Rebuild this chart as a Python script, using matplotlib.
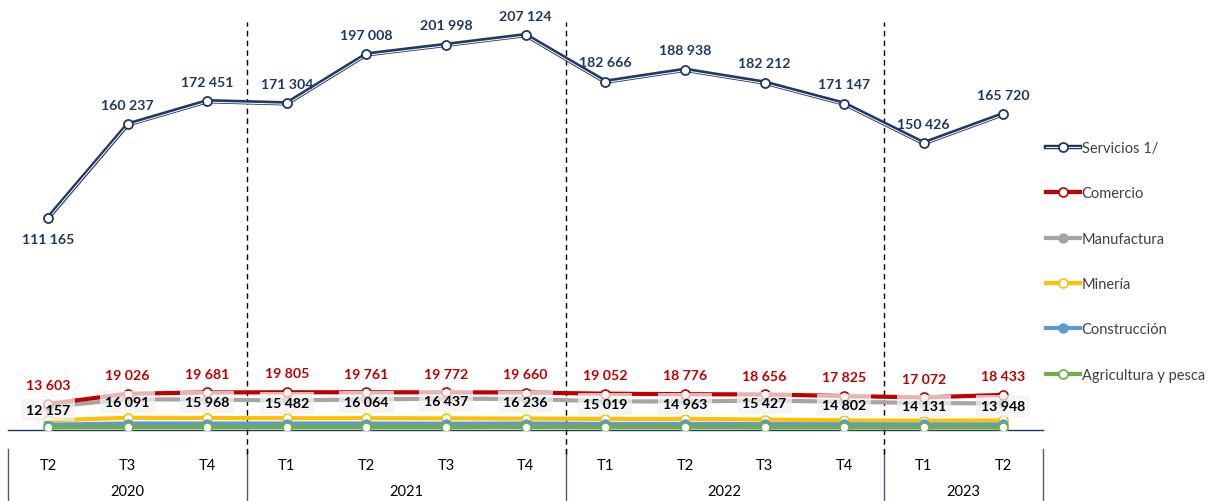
import matplotlib
matplotlib.use("Agg")
import matplotlib.pyplot as plt
import matplotlib.transforms as mtransforms
from matplotlib.lines import Line2D
from matplotlib.legend_handler import HandlerTuple

plt.rcParams['font.family'] = ['Lato', 'DejaVu Sans']

# quarters and years
quarters = ["T2", "T3", "T4", "T1", "T2", "T3", "T4", "T1", "T2", "T3", "T4", "T1", "T2"]
years = ["2020", "2021", "2022", "2023"]
year_sizes = [3, 4, 4, 2]

servicios = [111165, 160237, 172451, 171304, 197008, 201998, 207124,
             182666, 188938, 182212, 171147, 150426, 165720]
comercio = [13603, 19026, 19681, 19805, 19761, 19772, 19660,
            19052, 18776, 18656, 17825, 17072, 18433]
manufactura = [12157, 16091, 15968, 15482, 16064, 16437, 16236,
               15019, 14963, 15427, 14802, 14131, 13948]
mineria = [5000, 6400, 6300, 6200, 6200, 6100, 6000, 5800, 5800, 5500, 5000, 4900, 5000]
construccion = [2800, 3400, 3400, 3400, 3400, 3300, 3400, 3200, 3200, 3100, 3000, 2900, 2900]
agricultura = [1400, 1500, 1500, 1500, 1500, 1500, 1600, 1500, 1500, 1400, 1400, 1400, 1400]

NAVY = "#1f3864"
RED = "#c00000"
GRAY = "#a5a5a5"
YELLOW = "#ffc000"
BLUE = "#5b9bd5"
GREEN = "#70ad47"


def fmt(v):
    return f"{v:,}".replace(",", " ")


fig = plt.figure(figsize=(12.1, 5.02), dpi=100)
ax = fig.add_axes([8.2 / 1210, 71 / 502, 1035 / 1210, 419.5 / 502])
x = list(range(len(quarters)))

# small series first
ax.plot(x, mineria, color=YELLOW, lw=3, marker="o", ms=6.5, mfc="white", mec=YELLOW, mew=1.2, zorder=3)
ax.plot(x, construccion, color=BLUE, lw=3, marker="o", ms=6.5, mfc=BLUE, mec=BLUE, zorder=3.1)
ax.plot(x, agricultura, color=GREEN, lw=3, marker="o", ms=6.5, mfc="white", mec=GREEN, mew=1.2, zorder=3.2)
ax.plot(x, manufactura, color=GRAY, lw=3, marker="o", ms=6.5, mfc=GRAY, mec=GRAY, zorder=3.3)
ax.plot(x, comercio, color=RED, lw=3, marker="o", ms=6.5, mfc="white", mec=RED, mew=1.2, zorder=3.4)

# servicios: double line look
ax.plot(x, servicios, color=NAVY, lw=3.2, zorder=5)
shift = mtransforms.offset_copy(ax.transData, fig=fig, x=0, y=-0.9, units="dots")
ax.plot(x, servicios, color="white", lw=0.7, transform=shift, zorder=5.1)
ax.plot(x, servicios, ls="none", marker="o", ms=6.5, mfc="white", mec=NAVY, mew=1.3, zorder=5.2)

# data labels
for i, v in enumerate(servicios):
    dy = -15 if i == 0 else 14
    ax.annotate(fmt(v), (i, v), xytext=(0, dy), textcoords="offset points",
                ha="center", va="center", fontsize=10.2, fontweight="bold", color=NAVY, zorder=7)
for i, v in enumerate(comercio):
    ax.annotate(fmt(v), (i, v), xytext=(0, 13.5), textcoords="offset points",
                ha="center", va="center", fontsize=10.2, fontweight="bold", color=RED, zorder=7)
for i, v in enumerate(manufactura):
    ax.annotate(fmt(v), (i, v), xytext=(0, -2), textcoords="offset points",
                ha="center", va="center", fontsize=10.2, fontweight="bold", color="black", zorder=6,
                bbox=dict(boxstyle="square,pad=0.35", fc="#f2f2f2", ec="none", alpha=0.75))

ax.set_xlim(-0.5, len(quarters) - 0.5)
ax.set_ylim(0, 220000)
ax.set_yticks([])
ax.set_xticks([])
for s in ["top", "right", "left"]:
    ax.spines[s].set_visible(False)
ax.spines["bottom"].set_color(NAVY)
ax.spines["bottom"].set_linewidth(1)

trans = mtransforms.blended_transform_factory(ax.transData, ax.transAxes)

# quarter labels
for i, q in enumerate(quarters):
    ax.text(i, -0.0834, q, transform=trans, ha="center", va="center", fontsize=10.5, color="black")

# year labels and separators
start = 0
bounds = [-0.5]
for yr, n in zip(years, year_sizes):
    ax.text(start + (n - 1) / 2, -0.1454, yr, transform=trans, ha="center", va="center",
            fontsize=10.5, color="black")
    start += n
    bounds.append(start - 0.5)
for b in bounds:
    ax.plot([b, b], [-0.0453, -0.17], transform=trans, color="#4a5a8a", lw=1, clip_on=False)
for b in bounds[1:-1]:
    ax.plot([b, b], [-0.057, 0.9726], transform=trans, color="black", lw=1,
            ls=(0, (4, 3)), clip_on=False, zorder=2)

# legend
h_serv = (Line2D([], [], color=NAVY, lw=3.2), Line2D([], [], color="white", lw=0.7),
          Line2D([], [], ls="none", marker="o", ms=6.5, mfc="white", mec=NAVY, mew=1.3))
handles = [
    h_serv,
    Line2D([], [], color=RED, lw=3, marker="o", ms=6.5, mfc="white", mec=RED, mew=1.2),
    Line2D([], [], color=GRAY, lw=3, marker="o", ms=6.5, mfc=GRAY, mec=GRAY),
    Line2D([], [], color=YELLOW, lw=3, marker="o", ms=6.5, mfc="white", mec=YELLOW, mew=1.2),
    Line2D([], [], color=BLUE, lw=3, marker="o", ms=6.5, mfc=BLUE, mec=BLUE),
    Line2D([], [], color=GREEN, lw=3, marker="o", ms=6.5, mfc="white", mec=GREEN, mew=1.2),
]
labels = ["Servicios 1/", "Comercio", "Manufactura", "Minería", "Construcción", "Agricultura y pesca"]
leg = fig.legend(handles, labels, loc="upper left", bbox_to_anchor=(1046 / 1210, 1 - 142 / 502),
                 frameon=False, fontsize=10.5, labelspacing=2.15, handlelength=2.3,
                 handletextpad=0.15, borderpad=0, borderaxespad=0,
                 handler_map={tuple: HandlerTuple(ndivide=1, pad=0)})
for t in leg.get_texts():
    t.set_color("#404040")

fig.savefig("out.png", dpi=100)
